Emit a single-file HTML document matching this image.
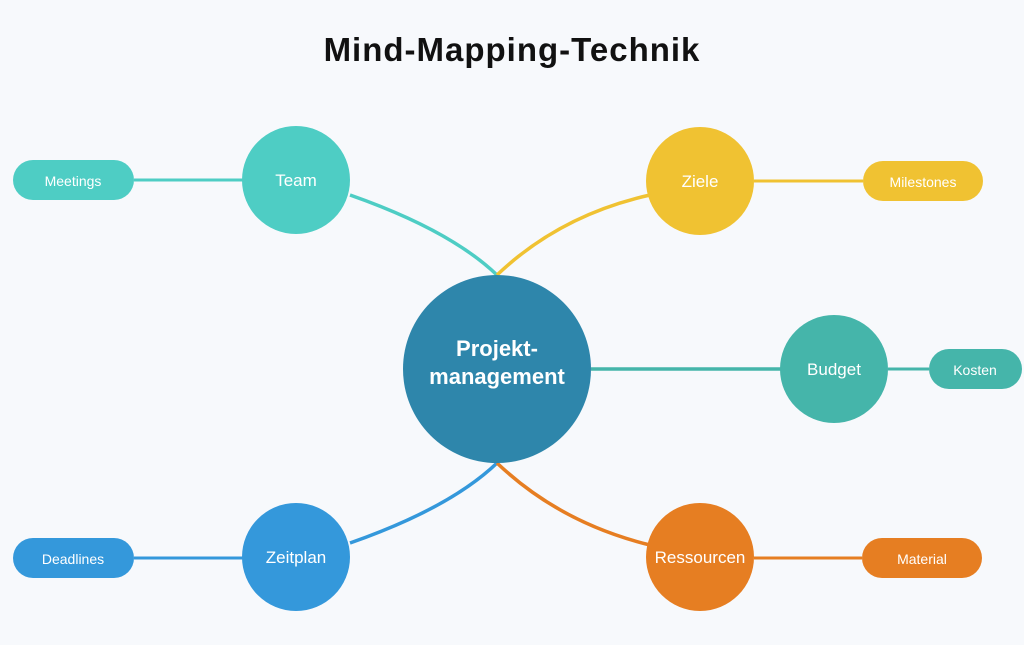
<!DOCTYPE html>
<html><head><meta charset="utf-8"><style>
html,body{margin:0;padding:0;background:#f7f9fc;}
svg{display:block;font-family:"Liberation Sans",sans-serif;}
</style></head><body>
<svg width="1024" height="645" viewBox="0 0 1024 645">
<rect width="1024" height="645" fill="#f7f9fc"/>
<text x="512" y="61" text-anchor="middle" font-size="33" font-weight="bold" letter-spacing="1" fill="#111">Mind-Mapping-Technik</text>
<g fill="none" stroke-width="3.5">
<path d="M350,195 Q450,230 497,275" stroke="#4ecdc4"/>
<path d="M497,275 Q560,215 650,195" stroke="#f0c232"/>
<path d="M350,543 Q450,508 497,463" stroke="#3498db"/>
<path d="M497,463 Q560,523 650,545" stroke="#e67e22"/>
<line x1="591" y1="369" x2="781" y2="369" stroke="#45b5aa"/>
<line x1="134" y1="180" x2="243" y2="180" stroke="#4ecdc4" stroke-width="3"/>
<line x1="754" y1="181" x2="863" y2="181" stroke="#f0c232" stroke-width="3"/>
<line x1="888" y1="369" x2="929" y2="369" stroke="#45b5aa" stroke-width="3"/>
<line x1="134" y1="558" x2="243" y2="558" stroke="#3498db" stroke-width="3"/>
<line x1="754" y1="558" x2="862" y2="558" stroke="#e67e22" stroke-width="3"/>
</g>
<circle cx="497" cy="369" r="94" fill="#2e86ab"/>
<circle cx="296" cy="180" r="54" fill="#4ecdc4"/>
<circle cx="700" cy="181" r="54" fill="#f0c232"/>
<circle cx="834" cy="369" r="54" fill="#45b5aa"/>
<circle cx="296" cy="557" r="54" fill="#3498db"/>
<circle cx="700" cy="557" r="54" fill="#e67e22"/>
<rect x="13" y="160" width="121" height="40" rx="20" fill="#4ecdc4"/>
<rect x="863" y="161" width="120" height="40" rx="20" fill="#f0c232"/>
<rect x="929" y="349" width="93" height="40" rx="20" fill="#45b5aa"/>
<rect x="13" y="538" width="121" height="40" rx="20" fill="#3498db"/>
<rect x="862" y="538" width="120" height="40" rx="20" fill="#e67e22"/>
<g fill="#fff" text-anchor="middle">
<text x="497" y="356" font-size="22" font-weight="bold">Projekt-</text>
<text x="497" y="384" font-size="22" font-weight="bold">management</text>
<text x="296" y="186" font-size="17">Team</text>
<text x="700" y="187" font-size="17">Ziele</text>
<text x="834" y="375" font-size="17">Budget</text>
<text x="296" y="563" font-size="17">Zeitplan</text>
<text x="700" y="563" font-size="17">Ressourcen</text>
<text x="73" y="186" font-size="14">Meetings</text>
<text x="923" y="187" font-size="14">Milestones</text>
<text x="975" y="375" font-size="14">Kosten</text>
<text x="73" y="564" font-size="14">Deadlines</text>
<text x="922" y="564" font-size="14">Material</text>
</g>
</svg>
</body></html>
